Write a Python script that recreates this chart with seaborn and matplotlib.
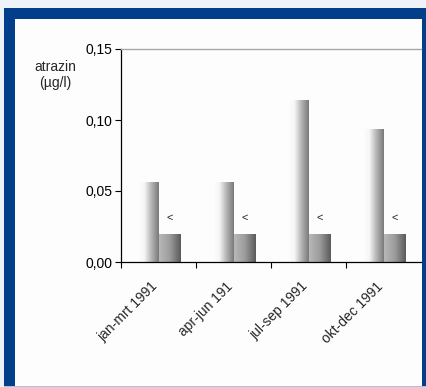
import numpy as np
import pandas as pd
import matplotlib
matplotlib.use("Agg")
import matplotlib.pyplot as plt
import matplotlib.transforms as mtransforms
from matplotlib.patches import Rectangle
from matplotlib.colors import LinearSegmentedColormap
from matplotlib.ticker import FixedLocator, FuncFormatter
import seaborn as sns

# Quarterly atrazine concentrations, 1991
periods = ["jan-mrt 1991", "apr-jun 191", "jul-sep 1991", "okt-dec 1991"]
measured = [0.056, 0.056, 0.114, 0.094]
detection_limit = [0.020, 0.020, 0.020, 0.020]
limit_marks = ["<", "<", "<", "<"]
y_ticks = [0.00, 0.05, 0.10, 0.15]

df = pd.DataFrame({
    "periode": periods * 2,
    "reeks": ["gemeten"] * len(periods) + ["detectiegrens"] * len(periods),
    "waarde": measured + detection_limit,
})

sns.set_theme(style="white")
plt.rcParams["font.family"] = ["Liberation Sans", "DejaVu Sans"]

W, H = 426, 387
fig = plt.figure(figsize=(W / 100, H / 100), dpi=100)
fig.patch.set_facecolor("#eef3fa")

def fx(px):
    return px / W

def fy(py):
    return 1 - py / H

# dark blue frame with white panel inside
fig.patches.append(Rectangle((fx(4), fy(387)), fx(430) - fx(4), fy(8) - fy(387),
                             transform=fig.transFigure, facecolor="#013f8a",
                             edgecolor="none", zorder=-10))
fig.patches.append(Rectangle((fx(15), fy(385.5)), fx(422) - fx(15), fy(19) - fy(385.5),
                             transform=fig.transFigure, facecolor="#fdfdfd",
                             edgecolor="none", zorder=-9))
fig.patches.append(Rectangle((fx(4), fy(387)), fx(430) - fx(4), fy(385.5) - fy(387),
                             transform=fig.transFigure, facecolor="#a9c3e3",
                             edgecolor="none", zorder=-9))

ax = fig.add_axes([fx(121), fy(262), fx(421) - fx(121), fy(49) - fy(262)])
ax.set_zorder(5)
ax.set_facecolor("none")

sns.barplot(data=df, x="periode", y="waarde", hue="reeks", order=periods,
            hue_order=["gemeten", "detectiegrens"], width=0.58, gap=0,
            palette=["#cccccc", "#888888"], legend=False, ax=ax,
            errorbar=None, saturation=1, linewidth=0)

# horizontal gradient fills on the bars
cmaps = {
    0: LinearSegmentedColormap.from_list("g1", ["#ffffff", "#f6f6f6", "#b4b4b4", "#7a7a7a"]),
    1: LinearSegmentedColormap.from_list("g2", ["#b8b8b8", "#9c9c9c", "#5a5a5a"]),
}
grad = np.linspace(0, 1, 64).reshape(1, -1)
n = len(periods)
for i, patch in enumerate(ax.patches[:2 * n]):
    series = i // n
    x0, y0 = patch.get_x(), patch.get_y()
    w, h = patch.get_width(), patch.get_height()
    im = ax.imshow(grad, cmap=cmaps[series], aspect="auto",
                   extent=(x0, x0 + w, y0, y0 + h), zorder=patch.get_zorder() + 0.1,
                   interpolation="bilinear")
    im.set_clip_path(patch)

ax.set_xlim(-0.5, 3.5)
ax.set_ylim(0, 0.15)

# "<" marks above the detection-limit bars
for patch, mark in zip(ax.patches[n:2 * n], limit_marks):
    ax.annotate(mark, (patch.get_x() + patch.get_width() / 2, patch.get_height()),
                xytext=(0, 11), textcoords="offset points", ha="center", va="center",
                fontsize=8, color="#222222")

ax.yaxis.set_major_locator(FixedLocator(y_ticks))
ax.yaxis.set_major_formatter(FuncFormatter(lambda v, _: f"{v:.2f}".replace(".", ",")))
ax.tick_params(axis="y", direction="out", length=4, width=0.8, colors="black",
               labelsize=10, pad=2, left=True)

ax.set_xticks(range(n))
ax.set_xticklabels(periods, rotation=45, ha="right", va="center",
                   rotation_mode="anchor", fontsize=10)
ax.tick_params(axis="x", which="major", length=0, pad=16)
shift = mtransforms.ScaledTranslation(-3 / 100, 0, fig.dpi_scale_trans)
for lbl in ax.get_xticklabels():
    lbl.set_transform(lbl.get_transform() + shift)
ax.set_xticks([-0.5, 0.5, 1.5, 2.5], minor=True)
ax.tick_params(axis="x", which="minor", direction="out", length=4, width=0.8,
               colors="black", bottom=True)

ax.set_xlabel("")
ax.set_ylabel("")
for side in ["left", "bottom"]:
    ax.spines[side].set_color("black")
    ax.spines[side].set_linewidth(0.9)
ax.spines["right"].set_visible(False)
ax.spines["top"].set_color("#a8a8a8")
ax.spines["top"].set_linewidth(1.0)

fig.text(fx(55), fy(67), "atrazin", ha="center", va="center", fontsize=10)
fig.text(fx(55), fy(83), "(µg/l)", ha="center", va="center", fontsize=10)

fig.savefig("out.png", dpi=100, facecolor=fig.get_facecolor())
